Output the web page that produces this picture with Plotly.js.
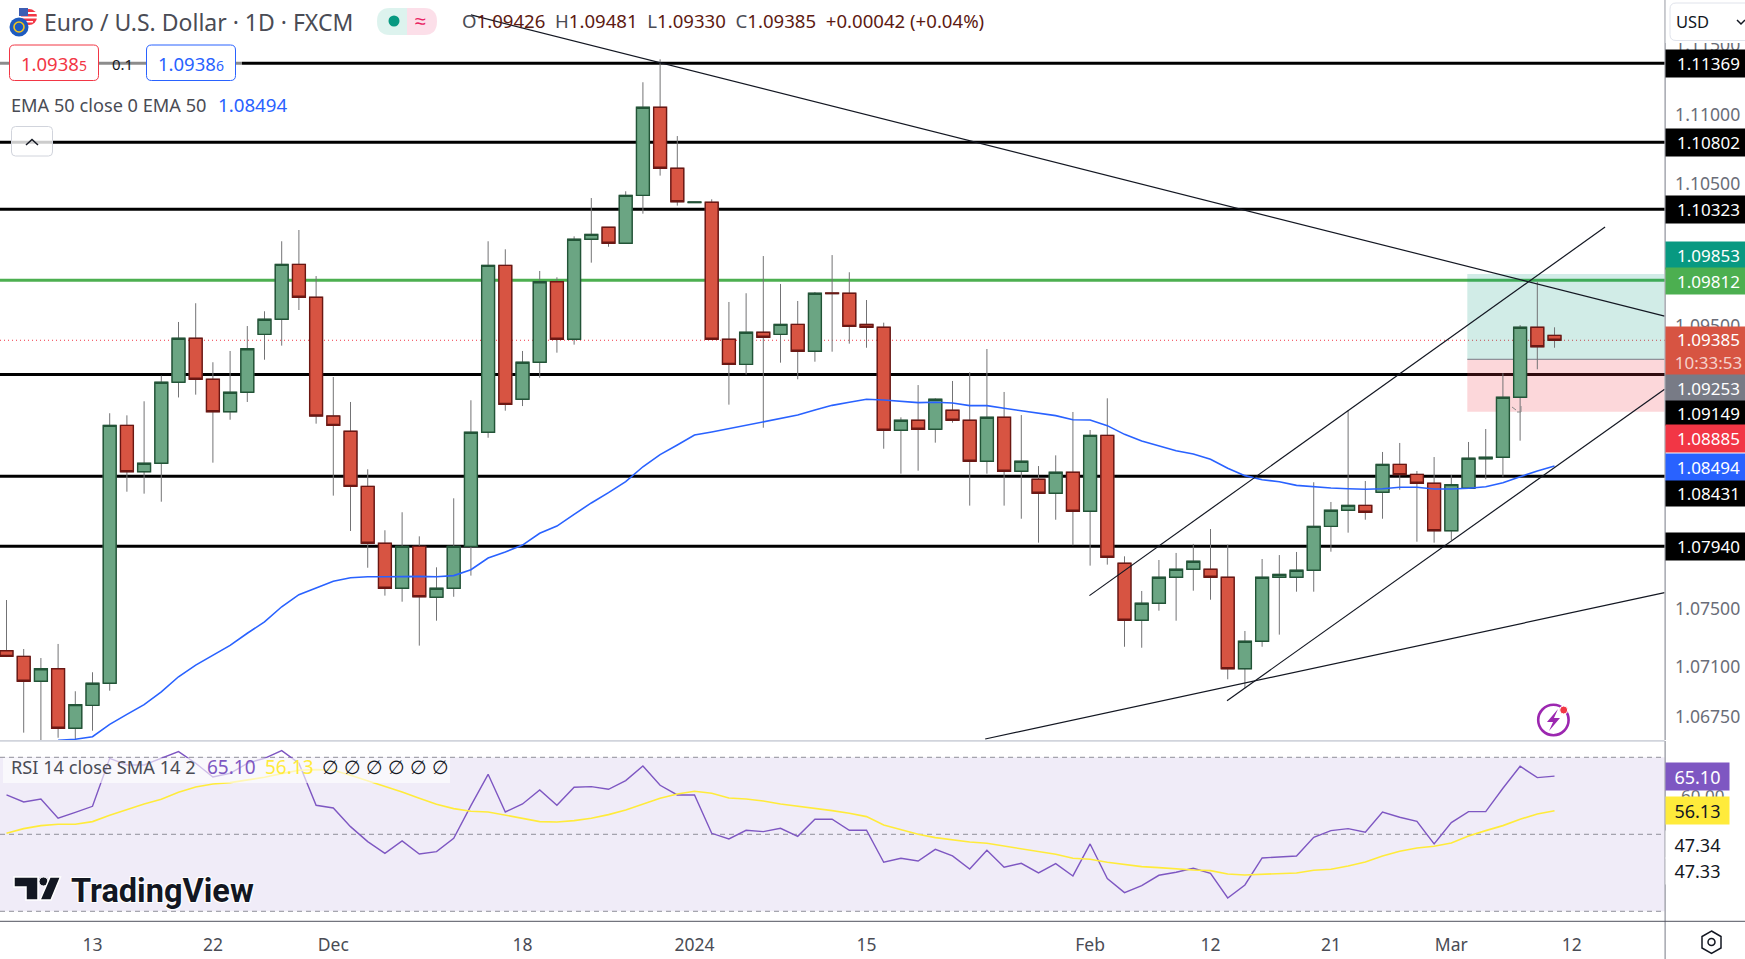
<!DOCTYPE html>
<html><head><meta charset="utf-8">
<script src="https://cdn.plot.ly/plotly-3.0.1.min.js"></script>
<style>html,body{margin:0;padding:0;background:#fff;overflow:hidden}</style>
</head><body><div id="chart" style="width:1745px;height:959px"></div>
<script>
const barDates=["Nov 6","Nov 7","Nov 8","Nov 9","Nov 10","Nov 13","Nov 14","Nov 15","Nov 16","Nov 17","Nov 20","Nov 21","Nov 22","Nov 23","Nov 24","Nov 27","Nov 28","Nov 29","Nov 30","Dec 1","Dec 4","Dec 5","Dec 6","Dec 7","Dec 8","Dec 11","Dec 12","Dec 13","Dec 14","Dec 15","Dec 18","Dec 19","Dec 20","Dec 21","Dec 22","Dec 25","Dec 26","Dec 27","Dec 28","Dec 29","Jan 1","Jan 2","Jan 3","Jan 4","Jan 5","Jan 8","Jan 9","Jan 10","Jan 11","Jan 12","Jan 15","Jan 16","Jan 17","Jan 18","Jan 19","Jan 22","Jan 23","Jan 24","Jan 25","Jan 26","Jan 29","Jan 30","Jan 31","Feb 1","Feb 2","Feb 5","Feb 6","Feb 7","Feb 8","Feb 9","Feb 12","Feb 13","Feb 14","Feb 15","Feb 16","Feb 19","Feb 20","Feb 21","Feb 22","Feb 23","Feb 26","Feb 27","Feb 28","Feb 29","Mar 1","Mar 4","Mar 5","Mar 6","Mar 7","Mar 8","Mar 11"];
const opens=[1.07198,1.07158,1.06981,1.07070,1.06647,1.06810,1.06967,1.08798,1.08469,1.08529,1.09104,1.09416,1.09125,1.08895,1.09033,1.09444,1.09551,1.09941,1.09707,1.08864,1.08756,1.08365,1.07961,1.07641,1.07939,1.07577,1.07641,1.07939,1.08749,1.09934,1.08983,1.09246,1.09818,1.09409,1.10119,1.10204,1.10091,1.10431,1.11056,1.10623,1.10379,1.10382,1.09409,1.09231,1.09459,1.09444,1.09515,1.09324,1.09738,1.09736,1.09515,1.09494,1.08763,1.08834,1.08770,1.08905,1.08834,1.08543,1.08855,1.08472,1.08415,1.08316,1.08465,1.08188,1.08727,1.07819,1.07414,1.07535,1.07719,1.07776,1.07776,1.07719,1.07070,1.07265,1.07719,1.07719,1.07769,1.08081,1.08195,1.08230,1.08323,1.08521,1.08450,1.08387,1.08050,1.08351,1.08561,1.08571,1.08997,1.09494,1.09437];
const highs=[1.07558,1.07210,1.07146,1.07246,1.06910,1.07045,1.08884,1.08869,1.08969,1.09151,1.09532,1.09665,1.09246,1.09326,1.09503,1.09608,1.10105,1.10185,1.09858,1.09141,1.08964,1.08486,1.08053,1.08181,1.08010,1.07790,1.08280,1.08976,1.10105,1.10048,1.09326,1.09894,1.09849,1.10140,1.10412,1.10206,1.10460,1.11234,1.11397,1.10852,1.10384,1.10403,1.09674,1.09736,1.10000,1.09802,1.09681,1.09745,1.10007,1.09885,1.09688,1.09527,1.08855,1.09084,1.08990,1.09113,1.09175,1.09340,1.09035,1.08871,1.08509,1.08585,1.08893,1.08765,1.08990,1.07868,1.07622,1.07842,1.07892,1.07956,1.08062,1.07951,1.07338,1.07849,1.07877,1.07899,1.08394,1.08254,1.08907,1.08403,1.08609,1.08673,1.08474,1.08573,1.08445,1.08680,1.08772,1.09168,1.09510,1.09818,1.09494];
const lows=[1.07153,1.06616,1.06528,1.06580,1.06571,1.06630,1.06914,1.08327,1.08313,1.08256,1.08996,1.09016,1.08533,1.08838,1.08964,1.09264,1.09364,1.09617,1.08810,1.08299,1.08048,1.07787,1.07589,1.07546,1.07234,1.07411,1.07581,1.07731,1.08710,1.08902,1.08935,1.09136,1.09314,1.09371,1.09953,1.10066,1.10091,1.10301,1.10571,1.10358,1.10379,1.09406,1.08945,1.09158,1.08781,1.09243,1.09125,1.09250,1.09321,1.09378,1.09349,1.08632,1.08455,1.08476,1.08675,1.08817,1.08228,1.08455,1.08228,1.08135,1.07965,1.08128,1.07946,1.07802,1.07809,1.07226,1.07219,1.07482,1.07411,1.07624,1.07560,1.06995,1.06931,1.07226,1.07312,1.07617,1.07617,1.07901,1.08036,1.08128,1.08135,1.08341,1.07972,1.07965,1.07984,1.08351,1.08415,1.08433,1.08689,1.09196,1.09349];
const closes=[1.07158,1.06981,1.07070,1.06647,1.06815,1.06967,1.08798,1.08469,1.08529,1.09104,1.09416,1.09125,1.08895,1.09033,1.09342,1.09551,1.09941,1.09707,1.08864,1.08798,1.08365,1.07961,1.07641,1.07939,1.07581,1.07641,1.07939,1.08749,1.09934,1.08947,1.09246,1.09818,1.09409,1.10119,1.10154,1.10091,1.10431,1.11056,1.10623,1.10386,1.10384,1.09409,1.09231,1.09459,1.09423,1.09515,1.09324,1.09736,1.09733,1.09501,1.09494,1.08763,1.08834,1.08770,1.08983,1.08834,1.08543,1.08855,1.08472,1.08543,1.08316,1.08465,1.08188,1.08727,1.07861,1.07414,1.07535,1.07719,1.07776,1.07833,1.07719,1.07070,1.07265,1.07719,1.07740,1.07769,1.08081,1.08195,1.08230,1.08181,1.08521,1.08448,1.08387,1.08050,1.08377,1.08564,1.08571,1.08997,1.09494,1.09356,1.09402];
const emaValues=[null,null,null,1.06562,1.06569,1.06587,1.06675,1.06746,1.06815,1.06905,1.07013,1.07096,1.07167,1.07236,1.07322,1.07402,1.07510,1.07596,1.07643,1.07691,1.07716,1.07723,1.07723,1.07726,1.07726,1.07723,1.07731,1.07773,1.07856,1.07899,1.07948,1.08032,1.08083,1.08166,1.08247,1.08320,1.08398,1.08504,1.08590,1.08658,1.08729,1.08751,1.08774,1.08798,1.08822,1.08848,1.08871,1.08907,1.08940,1.08962,1.08983,1.08978,1.08969,1.08959,1.08962,1.08957,1.08938,1.08938,1.08919,1.08902,1.08884,1.08867,1.08838,1.08836,1.08796,1.08734,1.08687,1.08651,1.08618,1.08595,1.08557,1.08493,1.08441,1.08412,1.08398,1.08372,1.08360,1.08353,1.08348,1.08344,1.08348,1.08358,1.08358,1.08346,1.08346,1.08351,1.08362,1.08391,1.08433,1.08474,1.08509];
const rsiValues=[60.22,58.40,59.18,54.16,55.71,57.27,69.74,68.01,68.01,69.74,71.47,68.44,64.89,65.84,68.44,69.74,71.73,68.44,57.53,56.84,51.99,48.10,45.06,48.27,44.89,45.50,48.96,57.45,65.58,55.80,57.88,61.52,57.53,62.21,62.38,61.69,63.94,67.75,62.73,60.22,60.22,50.26,48.79,51.04,50.69,51.56,49.48,53.90,53.90,51.04,51.04,42.73,43.77,43.07,46.10,44.37,41.00,45.84,41.43,42.47,39.96,42.38,39.18,47.49,38.48,34.85,36.67,39.35,40.13,41.17,39.87,33.46,36.84,43.85,44.11,44.37,49.22,50.95,51.47,50.52,55.80,54.42,53.38,47.49,53.03,55.89,55.89,61.95,67.66,64.72,65.10];
const smaValues=[50.26,51.47,52.25,52.60,52.60,53.29,54.94,56.49,57.88,59.09,60.91,62.29,63.07,63.42,64.03,64.81,65.76,66.62,66.80,66.62,65.32,63.94,62.55,61.00,59.35,57.79,56.67,55.97,55.80,54.94,53.98,53.29,53.20,53.55,54.16,55.11,56.32,57.88,59.35,60.48,61.17,60.65,59.44,59.18,58.66,57.88,57.36,56.75,56.15,55.45,54.59,52.42,51.13,50.00,49.13,48.53,48.01,47.66,46.97,46.28,45.67,44.81,43.77,43.51,42.73,42.12,41.60,41.34,41.00,40.74,40.56,39.70,39.44,39.61,39.87,39.96,40.65,40.91,41.77,42.81,44.37,45.58,46.45,46.88,47.75,49.57,50.95,52.25,53.90,55.28,56.13];
const xTickBars=[5,12,19,30,40,50,63,70,77,84,91];
const xTickLabels=["13","22","Dec","18","2024","15","Feb","12","21","Mar","12"];
const priceTicks=[1.11500,1.11004,1.10514,1.09503,1.07496,1.07085,1.06727];
const priceTickLabels=["1.11500","1.11000","1.10500","1.09500","1.07500","1.07100","1.06750"];
const rsiTicks=[60];
const blackLevels=[1.11369,1.10808,1.10332,1.09159,1.08436,1.07939];
const greenLevel=1.09828;
const lastPrice=1.09402;
const rsiBands=[70,50,30];
const trendDown=[[27.0,96.4],[1.11712,1.09574]];
const channelUpper=[[62.96,92.94],[1.07589,1.10206]];
const channelLower=[[70.96,96.4],[1.06843,1.09054]];
const supportLine=[[56.9,96.4],[1.06571,1.07610]];
const positionEntryBar=84.93;
const positionTop=1.09873, positionMid=1.09267, positionBottom=1.08895;

const W=1745,H=959,FONT='"Noto Sans", sans-serif';
const PX=x=>x/W, PY=y=>1-y/H;
const plotR=1664.6, mainB=740.7, rsiT=741.5, rsiB=921.3;
const xRange=[-0.378,96.4];
const idx=barDates.map((_,i)=>i);
const lineTrace=(d,color,width)=>({type:'scatter',mode:'lines',x:d[0],y:d[1],line:{color,width},xaxis:'x',yaxis:'y',hoverinfo:'skip'});
const traces=[
 {type:'scatter',mode:'lines',x:idx,y:emaValues,line:{color:'#2962FF',width:1.6},xaxis:'x',yaxis:'y',hoverinfo:'skip'},
 lineTrace(trendDown,'#131722',1.2),lineTrace(channelUpper,'#131722',1.2),lineTrace(channelLower,'#131722',1.2),lineTrace(supportLine,'#131722',1.2),
 {type:'candlestick',x:idx,open:opens,high:highs,low:lows,close:closes,whiskerwidth:0,
  increasing:{line:{color:'#737375',width:1},fillcolor:'#6BA583'},decreasing:{line:{color:'#737375',width:1},fillcolor:'#D75442'},xaxis:'x',yaxis:'y',hoverinfo:'skip'},
 {type:'candlestick',x:idx,open:opens,close:closes,high:opens.map((o,i)=>Math.max(o,closes[i])),low:opens.map((o,i)=>Math.min(o,closes[i])),whiskerwidth:0,
  increasing:{line:{color:'#225437',width:1.4},fillcolor:'#6BA583'},decreasing:{line:{color:'#6B1713',width:1.4},fillcolor:'#D75442'},xaxis:'x',yaxis:'y',hoverinfo:'skip'},
 {type:'scatter',mode:'lines',x:idx,y:rsiValues,line:{color:'#7E57C2',width:1.4},xaxis:'x2',yaxis:'y2',hoverinfo:'skip'},
 {type:'scatter',mode:'lines',x:idx,y:smaValues,line:{color:'#FFEB3B',width:1.6},xaxis:'x2',yaxis:'y2',hoverinfo:'skip'}
];
const shapes=[];
shapes.push({type:'rect',layer:'below',xref:'paper',yref:'y2',x0:0,x1:PX(plotR),y0:30,y1:70,fillcolor:'rgba(126,87,194,0.115)',line:{width:0}});
rsiBands.forEach(v=>shapes.push({type:'line',layer:'below',xref:'paper',yref:'y2',x0:0,x1:PX(plotR),y0:v,y1:v,line:{color:'#8f8f99',width:1,dash:'5px,4px'}}));
blackLevels.forEach(v=>shapes.push({type:'line',layer:'below',xref:'paper',yref:'y',x0:0,x1:PX(plotR),y0:v,y1:v,line:{color:'#000',width:3}}));
shapes.push({type:'line',layer:'below',xref:'paper',yref:'y',x0:0,x1:PX(plotR),y0:greenLevel,y1:greenLevel,line:{color:'#4CAF50',width:3}});
shapes.push({type:'line',layer:'below',xref:'paper',yref:'y',x0:0,x1:PX(plotR),y0:lastPrice,y1:lastPrice,line:{color:'#F23645',width:1,dash:'1px,3px'}});
shapes.push({type:'rect',layer:'below',xref:'x',yref:'y',x0:positionEntryBar,x1:xRange[1],y0:positionMid,y1:positionTop,fillcolor:'rgba(8,153,129,0.19)',line:{width:0}});
shapes.push({type:'rect',layer:'below',xref:'x',yref:'y',x0:positionEntryBar,x1:xRange[1],y0:positionBottom,y1:positionMid,fillcolor:'rgba(242,54,69,0.2)',line:{width:0}});
shapes.push({type:'line',layer:'below',xref:'x',yref:'y',x0:positionEntryBar,x1:xRange[1],y0:positionMid,y1:positionMid,line:{color:'#787B86',width:1}});
const pxRect=(x0,y0,x1,y1,fill,line,lw,layer)=>shapes.push({type:'rect',layer:layer||'above',xref:'paper',yref:'paper',x0:PX(x0),x1:PX(x1),y0:PY(y0),y1:PY(y1),fillcolor:fill,line:{color:line||'rgba(0,0,0,0)',width:lw||0}});
const pxPath=(pts,fill,line,lw,close)=>{
 const d=pts.map((p,i)=>(i?'L':'M')+PX(p[0]).toFixed(5)+','+PY(p[1]).toFixed(5)).join(' ')+(close?' Z':'');
 shapes.push({type:'path',layer:'above',xref:'paper',yref:'paper',path:d,fillcolor:fill||'rgba(0,0,0,0)',line:{color:line||'rgba(0,0,0,0)',width:lw||0}});};
const pxCirc=(cx,cy,r,fill,line,lw)=>shapes.push({type:'circle',layer:'above',xref:'paper',yref:'paper',x0:PX(cx-r),x1:PX(cx+r),y0:PY(cy-r),y1:PY(cy+r),fillcolor:fill,line:{color:line||'rgba(0,0,0,0)',width:lw||0}});
const rounded=(x0,y0,x1,y1,r,fill,line,lw)=>shapes.push({type:'path',layer:'above',xref:'paper',yref:'paper',fillcolor:fill,line:{color:line,width:lw||1},
 path:`M${PX(x0+r)},${PY(y0)} L${PX(x1-r)},${PY(y0)} Q${PX(x1)},${PY(y0)} ${PX(x1)},${PY(y0+r)} L${PX(x1)},${PY(y1-r)} Q${PX(x1)},${PY(y1)} ${PX(x1-r)},${PY(y1)} L${PX(x0+r)},${PY(y1)} Q${PX(x0)},${PY(y1)} ${PX(x0)},${PY(y1-r)} L${PX(x0)},${PY(y0+r)} Q${PX(x0)},${PY(y0)} ${PX(x0+r)},${PY(y0)} Z`});
pxRect(0,45,242,81,'rgba(255,255,255,0.55)');
pxRect(3,758,450,783,'rgba(255,255,255,0.62)');
pxRect(0,740,plotR,741.8,'#D1D4DC');
pxPath([[plotR+0.5,0],[plotR+0.5,740]],null,'#787B86',1);
pxPath([[plotR+0.5,741],[plotR+0.5,959]],null,'#787B86',1);
pxPath([[0,921.3],[W,921.3]],null,'#50535E',1);
pxRect(plotR+1,0,W,43,'#fff');
rounded(1670,3,1760,40.5,6,'#fff','#E0E3EB',1);
pxPath([[1737,20],[1741,24],[1745,20]],null,'#131722',1.5);
rounded(9.5,45,98.5,80.5,5,'#fff','#F23645',1);
rounded(146.5,45,235.5,80.5,5,'#fff','#2962FF',1);
rounded(11.5,126.5,52.5,156,4,'rgba(255,255,255,0.8)','#D1D4DC',1);
pxPath([[26,145],[32,139.5],[38,145]],null,'#131722',1.5);
pxCirc(29,17,8,'#F23645');
pxRect(21,12,37,14,'#fff');pxRect(21,16.5,37,18.5,'#fff');pxRect(21,21,33,22.5,'#fff');
pxRect(19,8,28,16,'#3D5DB3');
pxCirc(19,27,9.5,'#1E5BBF');
pxCirc(19,27,5,'rgba(0,0,0,0)','#F5C518',1.6);
shapes.push({type:'path',layer:'above',xref:'paper',yref:'paper',fillcolor:'#DDF3EE',line:{width:0},path:`M${PX(407)},${PY(8)} L${PX(390)},${PY(8)} Q${PX(377)},${PY(8)} ${PX(377)},${PY(21.5)} Q${PX(377)},${PY(35)} ${PX(390)},${PY(35)} L${PX(407)},${PY(35)} Z`});
shapes.push({type:'path',layer:'above',xref:'paper',yref:'paper',fillcolor:'#FCDFE9',line:{width:0},path:`M${PX(407)},${PY(8)} L${PX(424)},${PY(8)} Q${PX(437)},${PY(8)} ${PX(437)},${PY(21.5)} Q${PX(437)},${PY(35)} ${PX(424)},${PY(35)} L${PX(407)},${PY(35)} Z`});
pxCirc(394,21,5.5,'#089981');
pxPath([[14,877],[38,877],[38,900],[26,900],[26,887],[14,887]],'#131722','#fff',1.5,true);
pxCirc(43.5,881.5,4.5,'#131722','#fff',1);
pxPath([[50,877],[60.5,877],[51,900],[40,900]],'#131722','#fff',1.5,true);
pxCirc(1553.4,720,15.2,'rgba(0,0,0,0)','#9C27B0',2.6);
pxPath([[1558,709],[1547,722],[1553,722],[1549,731],[1560,718],[1554,718]],'#9C27B0',null,0,true);
pxCirc(1563.7,710,4,'#F23645','#fff',1);
pxPath([[1512,407],[1516,410]],null,'#888',1);pxPath([[1521,406],[1521,412],[1517,412]],null,'#888',1);
pxPath([[1711.5,931],[1721,936.5],[1721,948],[1711.5,953.5],[1702,948],[1702,936.5]],null,'#131722',1.5,true);
pxCirc(1711.5,942,3.5,'rgba(0,0,0,0)','#131722',1.5);

const ann=[];
const T=(text,x,y,size,color,o)=>ann.push(Object.assign({xref:'paper',yref:'paper',x:PX(x),y:PY(y),xanchor:'left',yanchor:'middle',showarrow:false,text,align:'left',font:{family:FONT,size,color},borderpad:0},o||{}));
const Badge=(text,y0,y1,bg,color,x1)=>ann.push({xref:'paper',yref:'paper',x:PX(plotR+0.5),y:PY((y0+y1)/2),xanchor:'left',yanchor:'middle',showarrow:false,text,align:'center',valign:'middle',width:(x1||W+5)-plotR-0.5,height:y1-y0,bgcolor:bg,borderpad:0,font:{family:FONT,size:x1?18:17,color}});
const gr='#4A4C55',dk='#5D1A12';
const kv=(k,v)=>`<span style="color:${gr}">${k}</span><span style="color:${dk}">${v}</span>`;
T('Euro / U.S. Dollar · 1D · FXCM',43,21.5,23,gr);
T('≈',414,21,20,'#E91E63');
T(kv('O','1.09426')+'  '+kv('H','1.09481')+'  '+kv('L','1.09330')+'  '+kv('C','1.09385')+'  '+`<span style="color:${dk}">+0.00042 (+0.04%)</span>`,461,21,18.6,dk);
T('1.0938<span style="font-size:14px">5</span>',20,63.5,18.5,'#F23645');
T('1.0938<span style="font-size:14px">6</span>',157,63.5,18.5,'#2962FF');
T('0.1',111,64,15,'#131722');
T('EMA 50 close 0 EMA 50',10,105,18.2,gr);
T('1.08494',217,105,18.7,'#2962FF');
T('RSI 14 close SMA 14 2',10,767,18.2,gr);
T('65.10',206,767,19,'#7E57C2');
T('56.13',264,767,19,'#FFEB3B');
[0,1,2,3,4,5].forEach(i=>T('∅',321+i*22,767,19,'#131722'));
T('<b>TradingView</b>',70,891,32.5,'#131722',{font:{family:'Roboto, sans-serif',size:32.5,color:'#131722',shadow:'1px 1px 1px #fff,-1px -1px 1px #fff,1px -1px 1px #fff,-1px 1px 1px #fff'}});
T('USD',1675,21.5,16.5,'#131722');
Badge('1.11369',50,76.7,'#000','#fff');
Badge('1.10802',129,156,'#000','#fff');
Badge('1.10323',196,223,'#000','#fff');
Badge('1.09853',242,269,'#089981','#fff');
Badge('1.09812',268,294,'#4CAF50','#fff');
Badge('1.09385<br><span style="color:#F5D0CA">10:33:53</span>',327,375,'#D75442','#fff');
Badge('1.09253',375,401,'#787B86','#fff');
Badge('1.09149',401,425.3,'#000','#fff');
Badge('1.08885',425.3,452,'#F23645','#fff');
Badge('1.08494',454,480.7,'#2962FF','#fff');
Badge('1.08431',480.7,506,'#000','#fff');
Badge('1.07940',533,560,'#000','#fff');
Badge('65.10',763,790,'#7E57C2','#fff',1728);
Badge('56.13',797,824,'#FFEB3B','#131722',1728);
Badge('47.34',831,858,'#fff','#131722',1728);
Badge('47.33',858,884,'#fff','#131722',1728);

const layout={width:W,height:H,margin:{l:0,r:0,t:0,b:0},paper_bgcolor:'#fff',plot_bgcolor:'#fff',showlegend:false,hovermode:false,boxmode:'overlay',boxgap:0.25,boxgroupgap:0,dragmode:false,
 xaxis:{domain:[0,PX(plotR)],range:xRange,type:'linear',anchor:'y',showgrid:false,zeroline:false,showticklabels:false,ticks:'',rangeslider:{visible:false},fixedrange:true},
 yaxis:{domain:[PY(mainB),1],range:[1.06559,1.11818],side:'right',anchor:'x',showgrid:false,zeroline:false,tickmode:'array',tickvals:priceTicks,ticktext:priceTickLabels,ticks:'outside',ticklen:6,tickcolor:'rgba(0,0,0,0)',tickfont:{family:FONT,size:17.6,color:'#6A6D78'},fixedrange:true},
 xaxis2:{domain:[0,PX(plotR)],range:xRange,type:'linear',anchor:'y2',showgrid:false,zeroline:false,tickmode:'array',tickvals:xTickBars,ticktext:xTickLabels,ticks:'outside',ticklen:8,tickcolor:'rgba(0,0,0,0)',tickfont:{family:FONT,size:17.5,color:'#4A4C55'},fixedrange:true},
 yaxis2:{domain:[PY(rsiB),PY(rsiT)],range:[27.4,74.1],side:'right',anchor:'x2',showgrid:false,zeroline:false,tickmode:'array',tickvals:rsiTicks,tickformat:'.2f',ticks:'outside',ticklen:12,tickcolor:'rgba(0,0,0,0)',tickfont:{family:FONT,size:17,color:'#6A6D78'},fixedrange:true},
 shapes,annotations:ann};
Plotly.newPlot('chart',traces,layout,{displayModeBar:false,staticPlot:true,responsive:false});
</script></body></html>
